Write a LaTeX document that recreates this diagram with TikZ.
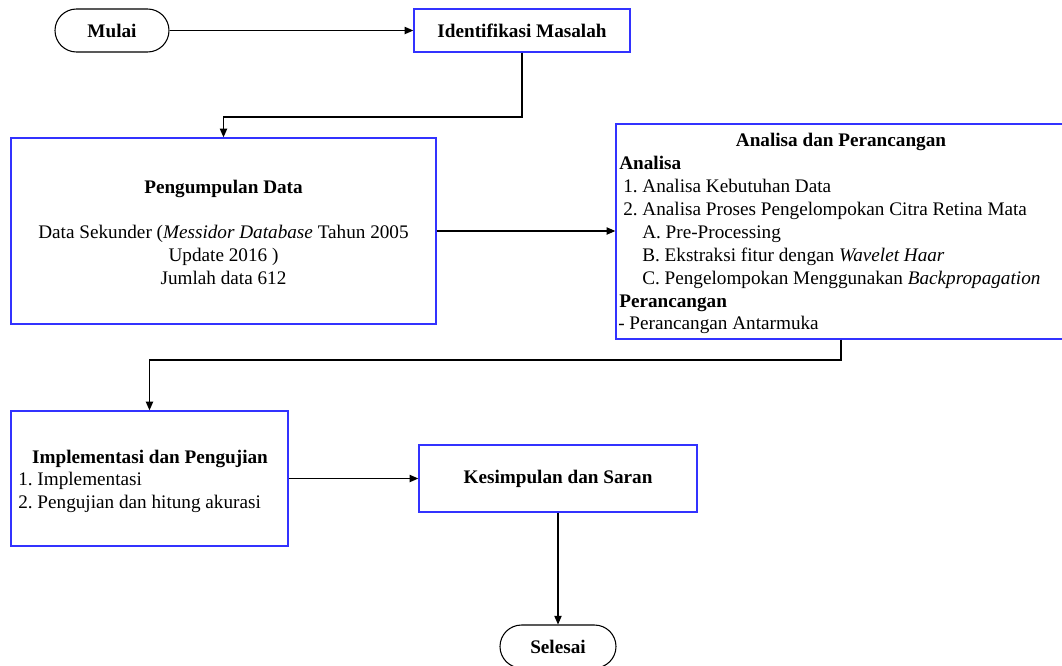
\documentclass[tikz,border=0pt]{standalone}
\usepackage{fontspec}
\setmainfont{Liberation Serif}
\usetikzlibrary{shapes.misc,arrows.meta}
\definecolor{boxblue}{RGB}{50,50,255}
\newcommand\myfs{\fontsize{14.4}{17.25}\selectfont}
\frenchspacing
\tikzset{
  lbl/.style={inner sep=0pt, anchor=base west, font=\myfs},
  lblc/.style={inner sep=0pt, anchor=base, font=\myfs},
  bluebox/.style={draw=boxblue, line width=1.1pt, rectangle, inner sep=0pt, font=\myfs\bfseries},
  term/.style={draw=black, line width=0.8pt, rounded rectangle, inner sep=0pt, font=\myfs\bfseries},
  conn/.style={draw=black, line width=0.8pt},
  arr/.style={conn, -{Triangle[length=6.5pt,width=5.5pt]}}
}
\begin{document}
\begin{tikzpicture}[x=0.75pt,y=-0.75pt]
\clip (0,0) rectangle (1062,665);
\fill[white] (0,0) rectangle (1062,665);
% nodes
\node[term, minimum width=85.5pt, minimum height=32.25pt] (mulai) at (112,30.5) {Mulai};
\node[bluebox, minimum width=162pt, minimum height=32.25pt] (ident) at (522,30.5) {Identifikasi Masalah};
\node[bluebox, minimum width=318.75pt, minimum height=139.5pt] (peng) at (223.5,231) {};
\node[bluebox, minimum width=337.5pt, minimum height=161.25pt] (anal) at (841,231.5) {};
\node[bluebox, minimum width=207.75pt, minimum height=101.25pt] (impl) at (149.5,478.5) {};
\node[bluebox, minimum width=208.5pt, minimum height=50.25pt] (kes) at (558,478.5) {Kesimpulan dan Saran};
\node[term, minimum width=87pt, minimum height=32.25pt] (sel) at (558,646.5) {Selesai};
% texts of Pengumpulan Data
\node[lblc] (p0) at (223.5,193) {\bfseries Pengumpulan Data};
\node[lblc] (p1) at (223.5,238) {Data Sekunder (\textit{Messidor Database} Tahun 2005};
\node[lblc] (p2) at (223.5,261) {Update 2016 )};
\node[lblc] (p3) at (223.5,284) {Jumlah data 612};
% texts of Analisa dan Perancangan
\node[lblc] (a0) at (841,146) {\bfseries Analisa dan Perancangan};
\node[lbl] (a1) at (619,169) {\bfseries Analisa};
\node[lbl] (a2) at (623,192) {1. Analisa Kebutuhan Data};
\node[lbl] (a3) at (623,215) {2. Analisa Proses Pengelompokan Citra Retina Mata};
\node[lbl] (a4) at (642,238) {A. Pre-Processing};
\node[lbl] (a5) at (642,261) {B. Ekstraksi fitur dengan \textit{Wavelet Haar}};
\node[lbl] (a6) at (642,284) {C. Pengelompokan Menggunakan \textit{Backpropagation}};
\node[lbl] (a7) at (619,307) {\bfseries Perancangan};
\node[lbl] (a8) at (618,329) {- Perancangan Antarmuka};
% texts of Implementasi
\node[lblc] (i0) at (150,463) {\bfseries Implementasi dan Pengujian};
\node[lbl] (i1) at (18,485) {1. Implementasi};
\node[lbl] (i2) at (18,508) {2. Pengujian dan hitung akurasi};
% helper coordinates
\coordinate (c1) at (0,117);
\coordinate (c2) at (0,360);
% connectors
\draw[arr] (mulai.east) -- (ident.west);
\draw[arr] (ident.south) -- (ident.south |- c1) -| (peng.north);
\draw[arr] (peng.east) -- (peng.east -| anal.west);
\draw[arr] (anal.south) -- (anal.south |- c2) -| (impl.north);
\draw[arr] (impl.east) -- (impl.east -| kes.west);
\draw[arr] (kes.south) -- (sel.north);
\end{tikzpicture}
\end{document}
